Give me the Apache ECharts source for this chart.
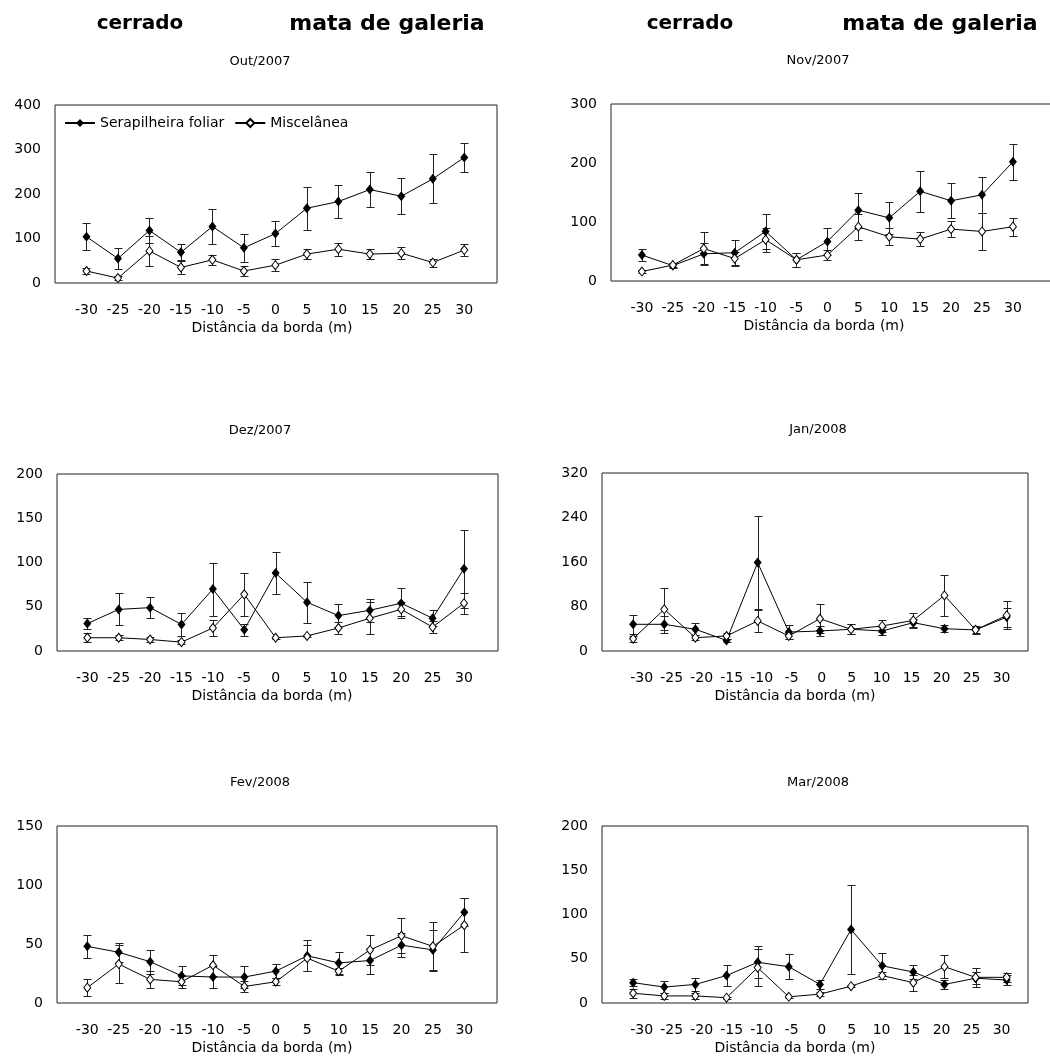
<!DOCTYPE html>
<html>
<head>
<meta charset="utf-8">
<script src="https://cdn.jsdelivr.net/npm/echarts@6/dist/echarts.min.js"></script>
<style>
html,body{margin:0;padding:0;background:#fff;}
#chart{width:1050px;height:1061px;}
</style>
</head>
<body>
<div id="chart"></div>
<script>
// ---- data ----
const distances = [-30, -25, -20, -15, -10, -5, 0, 5, 10, 15, 20, 25, 30];
const seriesNames = ['Serapilheira foliar', 'Miscelânea'];
const monthLabels = ['Out/2007', 'Nov/2007', 'Dez/2007', 'Jan/2008', 'Fev/2008', 'Mar/2008'];
const headerLabels = ['cerrado', 'mata de galeria'];
const axisTitle = 'Distância da borda (m)';
const yMaxes = [400, 300, 200, 320, 150, 200];
const yIntervals = [100, 100, 50, 80, 50, 50];

const outLeaf     = [104, 55, 118, 69, 127, 79, 111, 168, 183, 210, 195, 234, 282];
const outLeafErr  = [30, 24, 29, 18, 40, 32, 28, 48, 38, 40, 41, 55, 32];
const outMisc     = [27, 11, 72, 35, 52, 27, 40, 65, 76, 65, 67, 46, 74];
const outMiscErr  = [7, 4, 33, 14, 12, 11, 13, 12, 15, 12, 14, 9, 14];

const novLeaf     = [44, 26, 46, 48, 84, 36, 67, 120, 107, 152, 136, 146, 202];
const novLeafErr  = [10, 4, 18, 21, 30, 12, 23, 30, 27, 35, 30, 31, 31];
const novMisc     = [16, 27, 55, 38, 70, 36, 44, 92, 75, 71, 88, 84, 92];
const novMiscErr  = [3, 4, 28, 12, 20, 12, 8, 22, 14, 12, 14, 31, 15];

const dezLeaf     = [31, 47, 49, 30, 70, 24, 88, 55, 40, 46, 54, 37, 93];
const dezLeafErr  = [6, 18, 12, 13, 30, 7, 24, 23, 13, 13, 17, 9, 44];
const dezMisc     = [15, 15, 13, 10, 26, 64, 15, 17, 26, 37, 47, 27, 54];
const dezMiscErr  = [5, 3, 3, 2, 9, 24, 1, 1, 7, 18, 8, 7, 12];

const janLeaf     = [48, 48, 39, 19, 159, 34, 36, 39, 36, 51, 40, 38, 61];
const janLeafErr  = [17, 15, 11, 2, 83, 12, 9, 9, 8, 7, 6, 7, 17];
const janMisc     = [22, 75, 24, 27, 54, 27, 58, 39, 45, 55, 100, 38, 64];
const janMiscErr  = [5, 38, 4, 6, 20, 5, 26, 9, 11, 13, 37, 6, 25];

const fevLeaf     = [48, 43, 35, 23, 22, 22, 27, 40, 34, 36, 49, 45, 77];
const fevLeafErr  = [10, 8, 10, 8, 9, 9, 6, 13, 9, 11, 10, 17, 12];
const fevMisc     = [13, 33, 20, 18, 32, 14, 18, 38, 27, 45, 57, 48, 66];
const fevMiscErr  = [7, 16, 7, 5, 9, 5, 3, 11, 3, 13, 15, 21, 23];

const marLeaf     = [23, 18, 21, 31, 46, 41, 21, 83, 42, 35, 21, 28, 26];
const marLeafErr  = [4, 7, 7, 12, 18, 14, 5, 50, 15, 8, 5, 7, 6];
const marMisc     = [11, 8, 8, 6, 40, 7, 10, 19, 31, 23, 41, 29, 29];
const marMiscErr  = [5, 3, 3, 1, 21, 1, 2, 1, 4, 9, 13, 11, 5];

const panelData = [
  [outLeaf, outLeafErr, outMisc, outMiscErr],
  [novLeaf, novLeafErr, novMisc, novMiscErr],
  [dezLeaf, dezLeafErr, dezMisc, dezMiscErr],
  [janLeaf, janLeafErr, janMisc, janMiscErr],
  [fevLeaf, fevLeafErr, fevMisc, fevMiscErr],
  [marLeaf, marLeafErr, marMisc, marMiscErr]
];

// ---- layout (positions / styles only) ----
const layout = [
  {left: 55,  top: 105, width: 442, height: 178, xMin: -35,    xMax: 35.2,  lMin: -35,    lMax: 35.2,  titleX: 260, axisTitleX: 272},
  {left: 611, top: 104, width: 446, height: 177, xMin: -35,    xMax: 37.13, lMin: -35,    lMax: 37.13, titleX: 818, axisTitleX: 824},
  {left: 57,  top: 474, width: 441, height: 177, xMin: -34.83, xMax: 35.42, lMin: -34.83, lMax: 35.42, titleX: 260, axisTitleX: 272},
  {left: 602, top: 473, width: 426, height: 178, xMin: -35,    xMax: 33.42, lMin: -36.6,  lMax: 34.4,  titleX: 818, axisTitleX: 795},
  {left: 57,  top: 826, width: 440, height: 177, xMin: -34.82, xMax: 35.2,  lMin: -34.82, lMax: 35.2,  titleX: 260, axisTitleX: 272},
  {left: 602, top: 826, width: 426, height: 177, xMin: -35,    xMax: 33.42, lMin: -36.6,  lMax: 34.4,  titleX: 818, axisTitleX: 795}
];
const headerPos = [[140, 387], [690, 940]];
const headerSizes = [20, 22];
const FONT = 'DejaVu Sans';
const INK = '#000';

const grids = [], xAxes = [], yAxes = [], series = [], graphics = [];

layout.forEach((L, p) => {
  grids.push({left: L.left, top: L.top, width: L.width, height: L.height,
    show: true, borderColor: '#222', borderWidth: 1, backgroundColor: 'transparent',
    containLabel: false, outerBoundsMode: 'none'});
  // data axis (no labels)
  xAxes.push({gridIndex: p, type: 'value', min: L.xMin, max: L.xMax,
    axisLine: {show: false}, axisTick: {show: false}, splitLine: {show: false}, axisLabel: {show: false}});
  // label axis
  xAxes.push({gridIndex: p, type: 'value', min: L.lMin, max: L.lMax, position: 'bottom',
    axisLine: {show: false}, axisTick: {show: false}, splitLine: {show: false},
    axisLabel: {show: true, customValues: distances, margin: 20, color: INK, fontFamily: FONT, fontSize: 14,
      formatter: v => String(v)}});
  yAxes.push({gridIndex: p, type: 'value', min: 0, max: yMaxes[p], interval: yIntervals[p],
    axisLine: {show: false}, axisTick: {show: false}, splitLine: {show: false},
    axisLabel: {margin: 14, color: INK, fontFamily: FONT, fontSize: 14}});

  const [leaf, leafErr, misc, miscErr] = panelData[p];
  const dataAxis = p * 2;
  const errSeries = (mean, err) => ({
    type: 'custom', xAxisIndex: dataAxis, yAxisIndex: p, z: 2, silent: true,
    data: distances.map((d, i) => [d, mean[i] - err[i], mean[i] + err[i]]),
    encode: {x: 0, y: [1, 2]},
    renderItem: (params, api) => {
      const x = api.value(0);
      const hi = api.coord([x, api.value(2)]);
      const lo = api.coord([x, api.value(1)]);
      const cx = Math.round(hi[0]) + 0.5;
      const yh = Math.round(hi[1]) + 0.5, yl = Math.round(lo[1]) + 0.5;
      const w = 4;
      const st = {stroke: '#222', lineWidth: 1};
      return {type: 'group', children: [
        {type: 'line', shape: {x1: cx, y1: yh, x2: cx, y2: yl}, style: st},
        {type: 'line', shape: {x1: cx - w, y1: yh, x2: cx + w, y2: yh}, style: st},
        {type: 'line', shape: {x1: cx - w, y1: yl, x2: cx + w, y2: yl}, style: st}
      ]};
    }
  });
  series.push(errSeries(leaf, leafErr));
  series.push(errSeries(misc, miscErr));
  series.push({
    name: seriesNames[0], type: 'line', xAxisIndex: dataAxis, yAxisIndex: p, z: 3,
    data: distances.map((d, i) => [d, leaf[i]]),
    symbol: 'diamond', symbolSize: [8, 10], showSymbol: true,
    lineStyle: {color: INK, width: 1}, itemStyle: {color: INK, borderColor: INK, borderWidth: 0},
    emphasis: {disabled: true}, animation: false
  });
  series.push({
    name: seriesNames[1], type: 'line', xAxisIndex: dataAxis, yAxisIndex: p, z: 4,
    data: distances.map((d, i) => [d, misc[i]]),
    symbol: 'diamond', symbolSize: [7, 9], showSymbol: true,
    lineStyle: {color: INK, width: 1}, itemStyle: {color: '#fff', borderColor: INK, borderWidth: 1},
    emphasis: {disabled: true}, animation: false
  });

  graphics.push({type: 'text', x: L.titleX, y: L.top - 43,
    style: {text: monthLabels[p], font: '13px "' + FONT + '"', fill: INK, textAlign: 'center', textVerticalAlign: 'middle'}});
  graphics.push({type: 'text', x: L.axisTitleX, y: L.top + L.height + 45,
    style: {text: axisTitle, font: '14px "' + FONT + '"', fill: INK, textAlign: 'center', textVerticalAlign: 'middle'}});
});

headerPos.forEach(pos => {
  pos.forEach((x, k) => {
    graphics.push({type: 'text', x: x, y: 24,
      style: {text: headerLabels[k], font: 'bold ' + headerSizes[k] + 'px "' + FONT + '"', fill: INK, textAlign: 'center', textVerticalAlign: 'middle'}});
  });
});

const chart = echarts.init(document.getElementById('chart'), null, {renderer: 'canvas'});
chart.setOption({
  animation: false,
  backgroundColor: '#fff',
  textStyle: {fontFamily: FONT},
  legend: {
    data: seriesNames, left: 64, top: 116, padding: 0, itemGap: 10,
    itemWidth: 30, itemHeight: 10, selectedMode: false,
    textStyle: {fontFamily: FONT, fontSize: 14, color: INK}
  },
  grid: grids,
  xAxis: xAxes,
  yAxis: yAxes,
  series: series,
  graphic: graphics
});
</script>
</body>
</html>
